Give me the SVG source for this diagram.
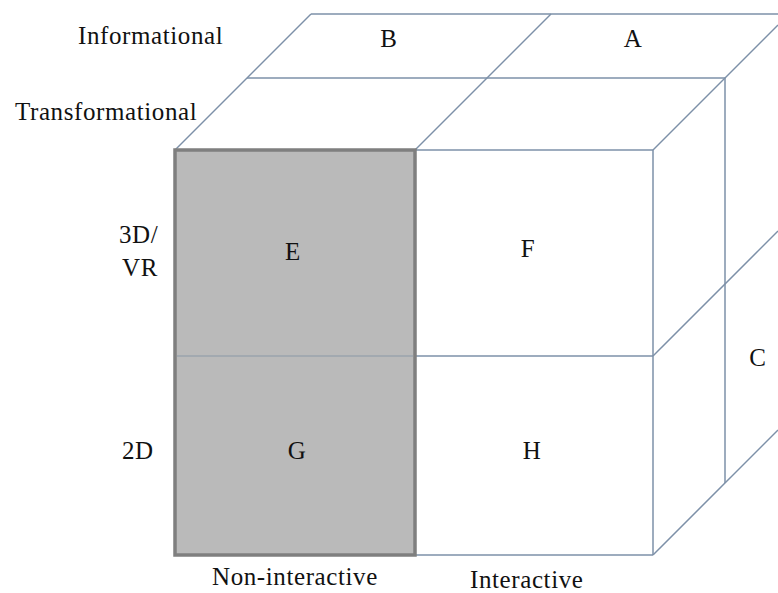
<svg xmlns="http://www.w3.org/2000/svg" width="778" height="593" viewBox="0 0 778 593">
  <style>
    .edge { stroke: #7d90a8; stroke-width: 1.5; fill: none; }
    .lbl { font-family: "Liberation Serif", "Times New Roman", serif; font-size: 25px; letter-spacing: 0.6px; fill: #111111; }
    .mid { text-anchor: middle; }
    .shaded { fill: #bababa; stroke: #7f7f7f; stroke-width: 3.5; }
  </style>
  <rect width="778" height="593" fill="#ffffff"/>

  <!-- cube edges -->
  <g id="edges">
    <!-- top face -->
    <line class="edge" x1="311" y1="14" x2="778" y2="14"/>
    <line class="edge" x1="247" y1="78" x2="725" y2="78"/>
    <line class="edge" x1="175" y1="150" x2="653" y2="150"/>
    <line class="edge" x1="175" y1="150" x2="311" y2="14"/>
    <line class="edge" x1="415" y1="150" x2="551" y2="14"/>
    <line class="edge" x1="653" y1="150" x2="778" y2="25"/>
    <!-- front face, right column -->
    <line class="edge" x1="653" y1="150" x2="653" y2="555"/>
    <line class="edge" x1="415" y1="356" x2="653" y2="356"/>
    <line class="edge" x1="415" y1="555" x2="653" y2="555"/>
    <!-- side face -->
    <line class="edge" x1="725" y1="78" x2="725" y2="483"/>
    <line class="edge" x1="653" y1="356" x2="778" y2="231"/>
    <line class="edge" x1="653" y1="555" x2="778" y2="430"/>
  </g>

  <!-- shaded non-interactive column -->
  <g id="column-noninteractive">
    <rect class="shaded" x="175" y="150" width="240" height="405"/>
    <line x1="177" y1="356" x2="413" y2="356" stroke="#9aa3ad" stroke-width="1.5"/>
  </g>

  <g id="cell-B"><text class="lbl mid" x="389" y="47">B</text></g>
  <g id="cell-A"><text class="lbl mid" x="633" y="47">A</text></g>
  <g id="cell-C"><text class="lbl mid" x="758" y="366">C</text></g>
  <g id="cell-E"><text class="lbl mid" x="293" y="260">E</text></g>
  <g id="cell-F"><text class="lbl mid" x="528" y="257">F</text></g>
  <g id="cell-G"><text class="lbl mid" x="297" y="459">G</text></g>
  <g id="cell-H"><text class="lbl mid" x="532" y="459">H</text></g>

  <g id="axis-labels">
    <text class="lbl" x="78" y="44">Informational</text>
    <text class="lbl" x="15" y="120">Transformational</text>
    <text class="lbl" x="119" y="243">3D/</text>
    <text class="lbl" x="122" y="276">VR</text>
    <text class="lbl" x="122" y="459">2D</text>
    <text class="lbl" x="212" y="585">Non-interactive</text>
    <text class="lbl" x="470" y="588">Interactive</text>
  </g>
</svg>
